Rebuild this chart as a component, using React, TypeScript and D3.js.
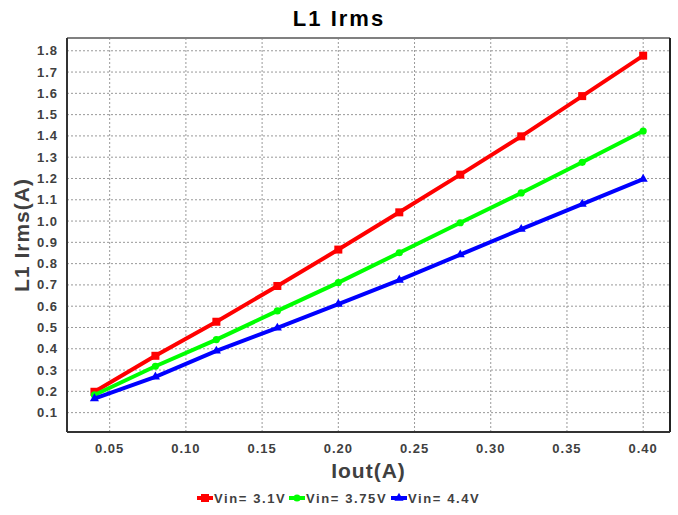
import React from "react";
import * as d3 from "d3";

const iout = [0.04, 0.08, 0.12, 0.16, 0.2, 0.24, 0.28, 0.32, 0.36, 0.4];
const vin31 = [0.198, 0.367, 0.527, 0.695, 0.866, 1.041, 1.218, 1.398, 1.587, 1.777];
const vin375 = [0.183, 0.318, 0.443, 0.578, 0.711, 0.851, 0.992, 1.132, 1.276, 1.423];
const vin44 = [0.166, 0.268, 0.39, 0.498, 0.61, 0.723, 0.842, 0.962, 1.08, 1.197];
const xTicks = [0.05, 0.1, 0.15, 0.2, 0.25, 0.3, 0.35, 0.4];
const yTicks = [0.1, 0.2, 0.3, 0.4, 0.5, 0.6, 0.7, 0.8, 0.9, 1.0, 1.1, 1.2, 1.3, 1.4, 1.5, 1.6, 1.7, 1.8];
const seriesNames = ["Vin= 3.1V", "Vin= 3.75V", "Vin= 4.4V"];
const seriesColors = ["#ff0000", "#00ff00", "#0000ff"];
const seriesShapes = ["square", "circle", "triangle"];

const W = 678, H = 515;
const m = { left: 67, right: 8, top: 38, bottom: 83 };
const font = "'Liberation Sans', Arial, sans-serif";

function Marker({ shape, x, y, color }: { shape: string; x: number; y: number; color: string }) {
  if (shape === "square") return <rect x={x - 4} y={y - 4} width={8} height={8} fill={color} />;
  if (shape === "circle") return <circle cx={x} cy={y} r={3.6} fill={color} />;
  const p = d3.symbol(d3.symbolTriangle, 36)() as string;
  return <path d={p} transform={`translate(${x},${y})`} fill={color} />;
}

export default function App() {
  const x = d3.scaleLinear().domain([0.022, 0.4176]).range([m.left, W - m.right]);
  const y = d3.scaleLinear().domain([0.009, 1.86]).range([H - m.bottom, m.top]);
  const series = [vin31, vin375, vin44];
  const line = d3.line<[number, number]>().x((d) => x(d[0])).y((d) => y(d[1]));
  const x0 = m.left, x1 = W - m.right, y0 = m.top, y1 = H - m.bottom;
  const legendX = [197, 289, 391];

  return (
    <svg width={W} height={H} style={{ position: "absolute", left: 0, top: 0, background: "#fff" }} fontFamily={font}>
      <rect x={0} y={0} width={W} height={H} fill="#fff" />
      {xTicks.map((t) => (
        <line key={"gx" + t} x1={x(t)} x2={x(t)} y1={y0} y2={y1} stroke="#999" strokeWidth={1} strokeDasharray="2,2" />
      ))}
      {yTicks.map((t) => (
        <line key={"gy" + t} x1={x0} x2={x1} y1={y(t)} y2={y(t)} stroke="#999" strokeWidth={1} strokeDasharray="2,2" />
      ))}
      <line x1={x0} x2={x1} y1={y0} y2={y0} stroke="#808080" strokeWidth={2} />
      <line x1={x1} x2={x1} y1={y0} y2={y1} stroke="#222" strokeWidth={2} />
      <line x1={x0} x2={x1} y1={y1} y2={y1} stroke="#333" strokeWidth={2} />
      <line x1={x0} x2={x0} y1={y0} y2={y1} stroke="#333" strokeWidth={2} />
      {xTicks.map((t) => (
        <text key={"tx" + t} x={x(t)} y={y1 + 21} textAnchor="middle" fontSize={13} fontWeight="bold" fill="#404040" letterSpacing={1}>
          {t.toFixed(2)}
        </text>
      ))}
      {yTicks.map((t) => (
        <text key={"ty" + t} x={x0 - 9} y={y(t) + 4.5} textAnchor="end" fontSize={13} fontWeight="bold" fill="#404040" letterSpacing={1}>
          {t.toFixed(1)}
        </text>
      ))}
      {series.map((s, i) => (
        <g key={"s" + i}>
          <path d={line(iout.map((v, j) => [v, s[j]] as [number, number])) as string} fill="none" stroke={seriesColors[i]} strokeWidth={4} />
          {iout.map((v, j) => (
            <Marker key={j} shape={seriesShapes[i]} x={x(v)} y={y(s[j])} color={seriesColors[i]} />
          ))}
        </g>
      ))}
      <text x={W / 2} y={26} textAnchor="middle" fontSize={22} fontWeight="bold" fill="#000" letterSpacing={2}>
        L1 Irms
      </text>
      <text x={(x0 + x1) / 2} y={478} textAnchor="middle" fontSize={21} fontWeight="bold" fill="#404040" letterSpacing={1}>
        Iout(A)
      </text>
      <text transform={`translate(29,${(y0 + y1) / 2}) rotate(-90)`} textAnchor="middle" fontSize={21} fontWeight="bold" fill="#404040" letterSpacing={1}>
        L1 Irms(A)
      </text>
      {seriesNames.map((n, i) => (
        <g key={"lg" + i}>
          <line x1={legendX[i]} x2={legendX[i] + 16} y1={498} y2={498} stroke={seriesColors[i]} strokeWidth={4} />
          <Marker shape={seriesShapes[i]} x={legendX[i] + 8} y={498} color={seriesColors[i]} />
          <text x={legendX[i] + 17} y={503} fontSize={13} fontWeight="bold" fill="#404040" letterSpacing={1.6}>
            {n}
          </text>
        </g>
      ))}
    </svg>
  );
}
